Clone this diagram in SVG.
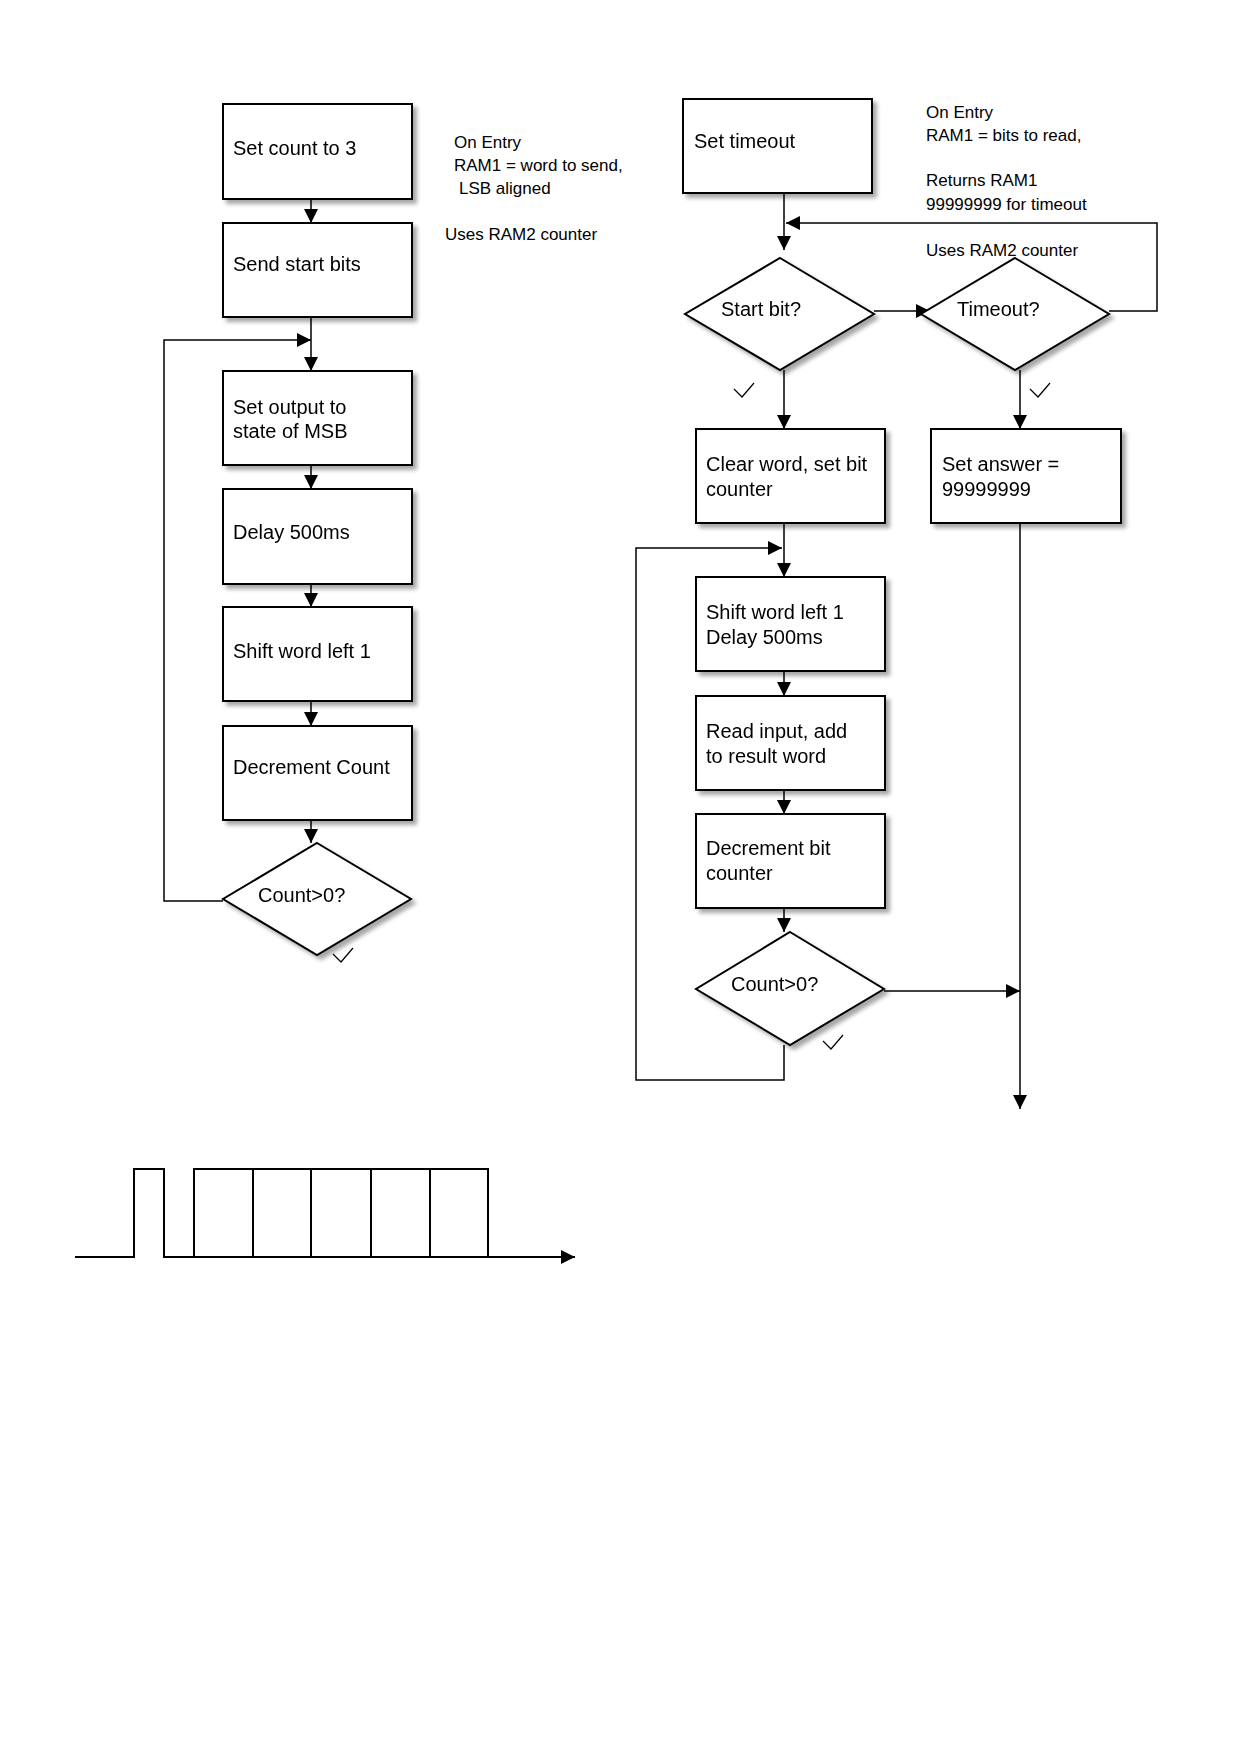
<svg xmlns="http://www.w3.org/2000/svg" width="1241" height="1754" viewBox="0 0 1241 1754">
<style>
.b{fill:#fff;stroke:#000;stroke-width:2}
.s{fill:#bbb;opacity:.6}
.t{font-family:"Liberation Sans",Arial,sans-serif;font-size:20px;fill:#000}
.a{font-family:"Liberation Sans",Arial,sans-serif;font-size:17px;fill:#000}
.c{fill:none;stroke:#000;stroke-width:1.5}
</style>
<defs>
<marker id="m" viewBox="0 0 10 10" refX="10" refY="5" markerWidth="14" markerHeight="14" markerUnits="userSpaceOnUse" orient="auto"><path d="M0,0L10,5L0,10z" fill="#000"/></marker>
<filter id="sh" x="-10%" y="-10%" width="130%" height="130%"><feGaussianBlur in="SourceAlpha" stdDeviation="2"/><feOffset dx="4" dy="4"/><feComponentTransfer><feFuncA type="linear" slope="0.35"/></feComponentTransfer><feMerge><feMergeNode/><feMergeNode in="SourceGraphic"/></feMerge></filter>
</defs>
<rect width="1241" height="1754" fill="#fff"/>
<g id="connectors">
<path class="c" d="M311,199V223" marker-end="url(#m)"/>
<path class="c" d="M311,317V371" marker-end="url(#m)"/>
<path class="c" d="M223,901H164V340H311" marker-end="url(#m)"/>
<path class="c" d="M311,465V489" marker-end="url(#m)"/>
<path class="c" d="M311,584V607" marker-end="url(#m)"/>
<path class="c" d="M311,701V726" marker-end="url(#m)"/>
<path class="c" d="M311,820V843" marker-end="url(#m)"/>
<path class="c" d="M784,193V250" marker-end="url(#m)"/>
<path class="c" d="M1109,311H1157V223H786" marker-end="url(#m)"/>
<path class="c" d="M874,311H930" marker-end="url(#m)"/>
<path class="c" d="M784,370V429" marker-end="url(#m)"/>
<path class="c" d="M1020,370V429" marker-end="url(#m)"/>
<path class="c" d="M784,523V577" marker-end="url(#m)"/>
<path class="c" d="M784,671V696" marker-end="url(#m)"/>
<path class="c" d="M784,790V814" marker-end="url(#m)"/>
<path class="c" d="M784,908V932" marker-end="url(#m)"/>
<path class="c" d="M784,1045V1080H636V548H782" marker-end="url(#m)"/>
<path class="c" d="M884,991H1020" marker-end="url(#m)"/>
<path class="c" d="M1020,523V1109" marker-end="url(#m)"/>
</g>
<g id="n1" filter="url(#sh)"><rect class="b" x="223" y="104" width="189" height="95"/><text class="t" x="233" y="155">Set count to 3</text></g>
<g id="n2" filter="url(#sh)"><rect class="b" x="223" y="223" width="189" height="94"/><text class="t" x="233" y="271">Send start bits</text></g>
<g id="n3" filter="url(#sh)"><rect class="b" x="223" y="371" width="189" height="94"/><text class="t" x="233" y="414">Set output to</text><text class="t" x="233" y="438">state of MSB</text></g>
<g id="n4" filter="url(#sh)"><rect class="b" x="223" y="489" width="189" height="95"/><text class="t" x="233" y="539">Delay 500ms</text></g>
<g id="n5" filter="url(#sh)"><rect class="b" x="223" y="607" width="189" height="94"/><text class="t" x="233" y="658">Shift word left 1</text></g>
<g id="n6" filter="url(#sh)"><rect class="b" x="223" y="726" width="189" height="94"/><text class="t" x="233" y="774">Decrement Count</text></g>
<g id="n7" filter="url(#sh)"><path class="b" d="M317,843L411,899L317,955L223,899Z"/><text class="t" x="258" y="902">Count&gt;0?</text></g>
<g id="ann1"><text class="a" x="454" y="148">On Entry</text><text class="a" x="454" y="171">RAM1 = word to send,</text><text class="a" x="459" y="194">LSB aligned</text><text class="a" x="445" y="240">Uses RAM2 counter</text></g>
<g id="n8" filter="url(#sh)"><rect class="b" x="683" y="99" width="189" height="94"/><text class="t" x="694" y="148">Set timeout</text></g>
<g id="ann2"><text class="a" x="926" y="118">On Entry</text><text class="a" x="926" y="141">RAM1 = bits to read,</text><text class="a" x="926" y="186">Returns RAM1</text><text class="a" x="926" y="210">99999999 for timeout</text><text class="a" x="926" y="256">Uses RAM2 counter</text></g>
<g id="n9" filter="url(#sh)"><path class="b" d="M780,258L874,314L780,370L685,314Z"/><text class="t" x="721" y="316">Start bit?</text></g>
<g id="n10" filter="url(#sh)"><path class="b" d="M1015,258L1109,314L1015,370L921,314Z"/><text class="t" x="957" y="316">Timeout?</text></g>
<g id="n11" filter="url(#sh)"><rect class="b" x="696" y="429" width="189" height="94"/><text class="t" x="706" y="471">Clear word, set bit</text><text class="t" x="706" y="496">counter</text></g>
<g id="n12" filter="url(#sh)"><rect class="b" x="931" y="429" width="190" height="94"/><text class="t" x="942" y="471">Set answer =</text><text class="t" x="942" y="496">99999999</text></g>
<g id="n13" filter="url(#sh)"><rect class="b" x="696" y="577" width="189" height="94"/><text class="t" x="706" y="619">Shift word left 1</text><text class="t" x="706" y="644">Delay 500ms</text></g>
<g id="n14" filter="url(#sh)"><rect class="b" x="696" y="696" width="189" height="94"/><text class="t" x="706" y="738">Read input, add</text><text class="t" x="706" y="763">to result word</text></g>
<g id="n15" filter="url(#sh)"><rect class="b" x="696" y="814" width="189" height="94"/><text class="t" x="706" y="855">Decrement bit</text><text class="t" x="706" y="880">counter</text></g>
<g id="n16" filter="url(#sh)"><path class="b" d="M790,932L884,989L790,1045L696,989Z"/><text class="t" x="731" y="991">Count&gt;0?</text></g>
<g id="checks" fill="none" stroke="#000" stroke-width="1.2">
<path d="M333,954l8,8l12,-14"/>
<path d="M734,389l8,8l12,-14"/>
<path d="M1030,389l8,8l12,-14"/>
<path d="M823,1041l8,8l12,-14"/>
</g>
<g id="waveform" fill="none" stroke="#000" stroke-width="2">
<path d="M75,1257H134V1169H164V1257H194"/>
<rect x="194" y="1169" width="294" height="88"/>
<path d="M253,1169V1257M311,1169V1257M371,1169V1257M430,1169V1257"/>
<path d="M488,1257H575" marker-end="url(#m)"/>
</g>
</svg>
